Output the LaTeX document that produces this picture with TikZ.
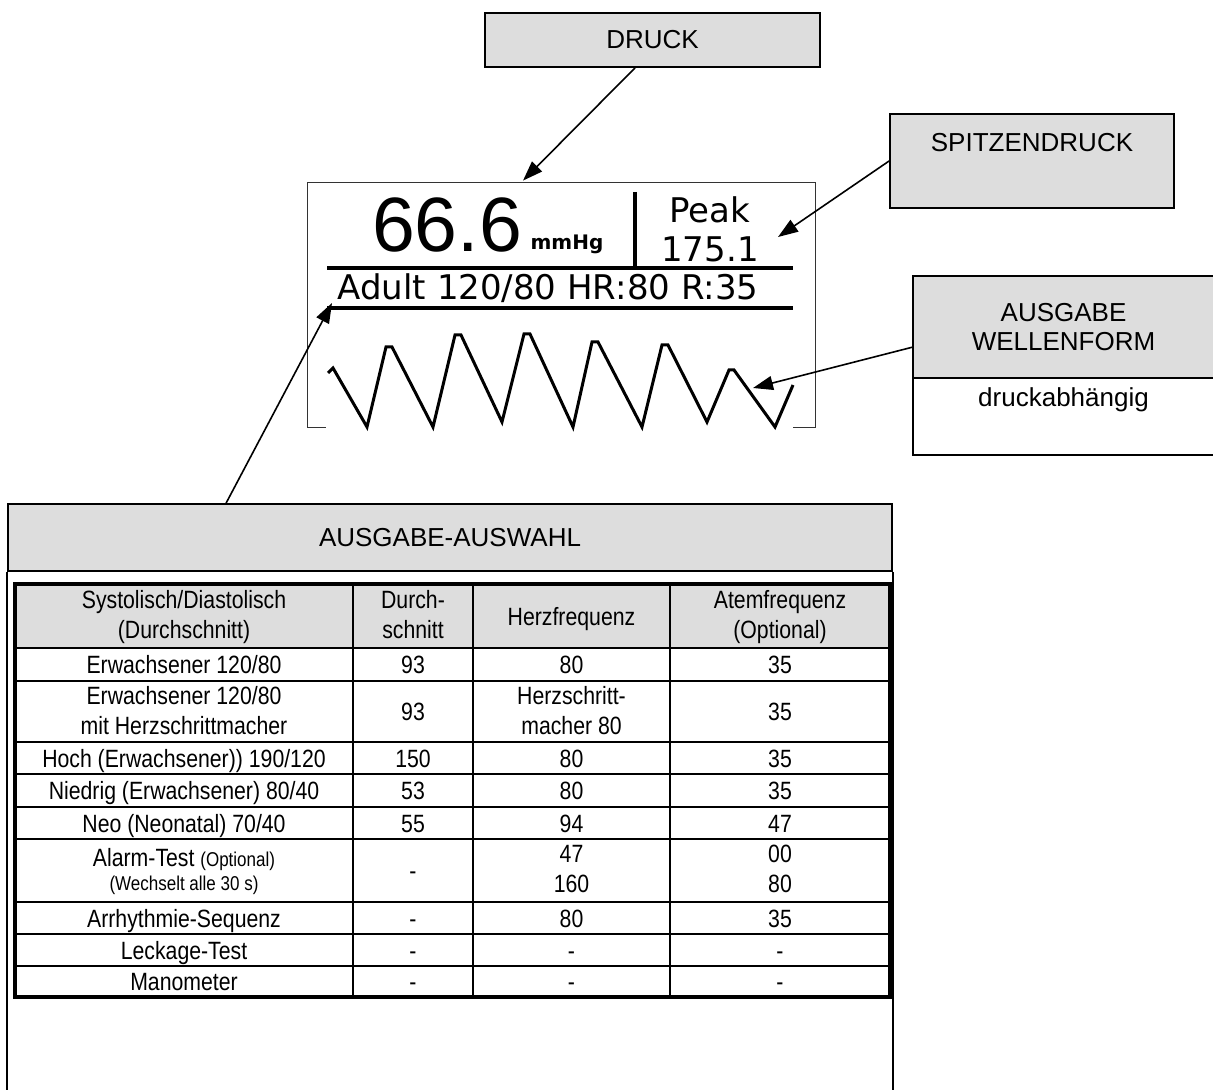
\documentclass[tikz,border=0pt]{standalone}
\usepackage{fontspec}
\setmainfont{Liberation Sans}
\newfontfamily\narrowfont[FakeStretch=0.85]{Liberation Sans}
\newfontfamily\lcdfont{DejaVu Sans}
\usepackage{tikz}
\usetikzlibrary{arrows.meta, positioning, calc}
\definecolor{boxgray}{HTML}{DDDDDD}
\newcommand{\smallcell}{\fontsize{10}{12}\selectfont}
\tikzstyle{tagbox} = [rectangle, draw=black, line width=0.9pt, fill=boxgray,
    align=center, inner sep=0pt, font=\fontsize{13}{14.5}\selectfont]
\tikzstyle{cell} = [align=center, inner sep=0pt, yshift=-1.5pt,
    font=\narrowfont\fontsize{12.5}{15}\selectfont,
    execute at begin node=\strut, execute at end node=\strut]
\tikzstyle{lcdtext} = [inner sep=0pt, anchor=base, font=\lcdfont\fontsize{17}{20}\selectfont]
\tikzstyle{arrow} = [line width=0.8pt, -{Triangle[length=10pt,width=7pt]}]

\begin{document}
\begin{tikzpicture}[x=0.5pt, y=-0.5pt]
  \useasboundingbox (0,0) rectangle (1213,1090);
  \coordinate (bottom) at (0,1090);

  % callout boxes
  \node[tagbox, minimum width=167.5pt, minimum height=27pt] (druck) at (652.5,40) {DRUCK};
  \node[tagbox, minimum width=142pt, minimum height=47pt] (spitz) at (1032,161)
    {SPITZENDRUCK\\ \strut};
  \node[tagbox, draw=none, minimum width=149.5pt, minimum height=50pt] (wavetop)
    at (1063.5,327) {AUSGABE\\WELLENFORM};
  \node[tagbox, draw=none, fill=white, minimum width=149.5pt, minimum height=37.5pt,
    below=0pt of wavetop] (wavebot) {druckabhängig\\ \strut};
  \draw[line width=0.9pt] (wavetop.north east) -- (wavetop.north west)
    -- (wavebot.south west) -- (wavebot.south east)
    (wavetop.south west) -- (wavetop.south east);

  % display
  \node[minimum width=253.5pt, minimum height=122pt, inner sep=0pt] (lcd) at (561.5,305) {};
  \draw[line width=0.8pt, black!80] ($(lcd.south west)+(18,0)$) -- (lcd.south west)
    -- (lcd.north west) -- (lcd.north east) -- (lcd.south east) -- ++(-22,0);
  \node[inner sep=0pt, anchor=base, font=\fontsize{38.5}{40}\selectfont] (value)
    at (447,252) {66.6};
  \node[lcdtext, font=\lcdfont\bfseries\fontsize{10}{11}\selectfont] (unit) at (567,250) {mmHg};
  \node[lcdtext] (peak) at (710,223) {Peak};
  \node[lcdtext] (peakval) at (710,262) {175.1};
  \node[lcdtext] (mode) at (548,300) {Adult 120/80 HR:80 R:35};
  \draw[line width=1.6pt] (635,192) -- (635,267);
  \draw[line width=2pt] (327,268) -- (793,268);
  \draw[line width=2pt] (327,308) -- (793,308);
  \draw[line width=1.5pt] (328,373) -- (333,368) -- (367,427) -- (386,347) -- (392,347)
    -- (433,427) -- (455,335) -- (461,335) -- (502,422) -- (524,334) -- (530,334)
    -- (573,427) -- (592,342) -- (598,342) -- (642,427) -- (662,345) -- (668,345)
    -- (707,422) -- (729,370) -- (734,370) -- (775,427) -- (793,385);
  \coordinate (peaktip) at (778,237);
  \coordinate (wavetip) at (753,388);
  \coordinate (modetip) at (332,303);

  % output selection
  \node[tagbox, minimum width=442pt, minimum height=33.5pt] (selhead) at (450,537.5)
    {AUSGABE-AUSWAHL};
  \draw[line width=0.9pt] (selhead.south west) -- (selhead.south west |- bottom)
    (selhead.south east) -- (selhead.south east |- bottom);

  \fill[boxgray] (15,584) rectangle (890,648);
  \foreach \yy in {648,681,742,774,807,839,902,934,966}
    \draw[line width=1.3pt] (15,\yy) -- (890,\yy);
  \foreach \xx in {353,473,670}
    \draw[line width=1.3pt] (\xx,584) -- (\xx,997);
  \draw[line width=1.6pt] (15,584) rectangle (890,997);

  \foreach \yc/\ta/\tb/\tc/\td [count=\r] in {
      616/{Systolisch/Diastolisch\\(Durchschnitt)}/{Durch-\\schnitt}/Herzfrequenz/{Atemfrequenz\\(Optional)},
      664.5/{Erwachsener 120/80}/93/80/35,
      711.5/{Erwachsener 120/80\\mit Herzschrittmacher}/93/{Herzschritt-\\macher 80}/35,
      758/{Hoch (Erwachsener)) 190/120}/150/80/35,
      790.5/{Niedrig (Erwachsener) 80/40}/53/80/35,
      823/{Neo (Neonatal) 70/40}/55/94/47,
      870.5/{Alarm-Test {\smallcell(Optional)}\\[-3pt]{\smallcell(Wechselt alle 30 s)}}/-/{47\\160}/{00\\80},
      918/Arrhythmie-Sequenz/-/80/35,
      950/Leckage-Test/-/-/-,
      981.5/Manometer/-/-/-}
  {
    \node[cell] (r\r a) at (184,\yc) {\ta};
    \node[cell] (r\r b) at (413,\yc) {\tb};
    \node[cell] (r\r c) at (571.5,\yc) {\tc};
    \node[cell] (r\r d) at (780,\yc) {\td};
  }

  % callout arrows
  \draw[arrow] ($(druck.south)+(-17.5,0)$) -- ($(lcd.north)+(-38.5,-2)$);
  \draw[arrow] (spitz.west) -- (peaktip);
  \draw[arrow] ($(wavetop.west)+(0,20)$) -- (wavetip);
  \draw[arrow] ($(selhead.north west)+(219,0)$) -- (modetip);
\end{tikzpicture}
\end{document}
